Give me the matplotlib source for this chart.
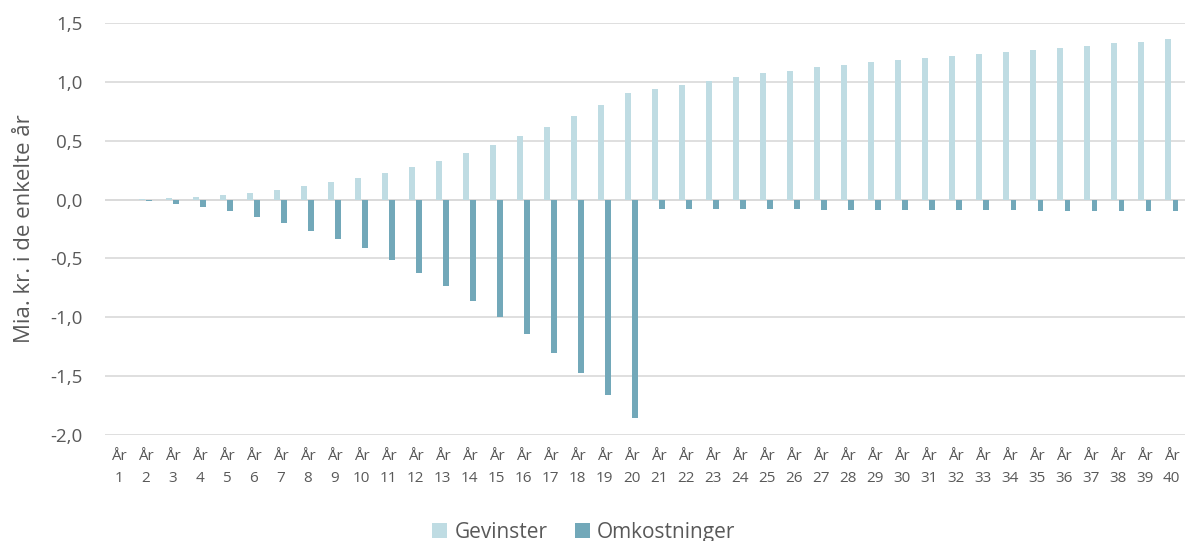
import numpy as np
import matplotlib.pyplot as plt
from matplotlib.ticker import FuncFormatter

plt.rcParams['font.family'] = ['Open Sans', 'DejaVu Sans']

years = [f"År\n{i}" for i in range(1, 41)]

gevinster = [0.0, 0.003, 0.011, 0.025, 0.04, 0.059, 0.085, 0.113, 0.147, 0.187,
             0.228, 0.275, 0.331, 0.397, 0.465, 0.541, 0.620, 0.708, 0.805, 0.907,
             0.937, 0.972, 1.005, 1.04, 1.071, 1.096, 1.122, 1.147, 1.167, 1.187,
             1.204, 1.221, 1.238, 1.252, 1.269, 1.286, 1.306, 1.326, 1.340, 1.360]

omkostninger = [0.0, -0.014, -0.034, -0.062, -0.099, -0.144, -0.198, -0.263, -0.331, -0.41,
                -0.513, -0.620, -0.734, -0.858, -0.994, -1.142, -1.30, -1.473, -1.657, -1.855,
                -0.08, -0.08, -0.08, -0.08, -0.08, -0.08, -0.085, -0.085, -0.09, -0.09,
                -0.09, -0.09, -0.09, -0.09, -0.095, -0.095, -0.1, -0.1, -0.1, -0.1]

c_gev = '#bfdce3'
c_omk = '#72a8b9'
grey = '#595959'

fig = plt.figure(figsize=(11.87, 5.41), dpi=100)
ax = fig.add_axes([0.0885, 0.196, 0.91, 0.7615])

x = np.arange(len(years))
w = 0.22
ax.bar(x - 0.14, gevinster, w, color=c_gev, label='Gevinster', zorder=3)
ax.bar(x + 0.14, omkostninger, w, color=c_omk, label='Omkostninger', zorder=3)

ax.set_xlim(-0.5, len(years) - 0.5)
ax.set_ylim(-2.0, 1.5)
ax.set_yticks(np.arange(-2.0, 1.51, 0.5))
ax.yaxis.set_major_formatter(FuncFormatter(lambda v, p: f"{v:.1f}".replace('.', ',')))
ax.grid(axis='y', color='#d9d9d9', linewidth=1.2, zorder=0)
ax.axhline(0, color='#d9d9d9', linewidth=1.2, zorder=2)

ax.set_xticks(x)
ax.set_xticklabels(years, fontsize=11, color=grey, linespacing=1.65)
ax.tick_params(axis='x', length=0, pad=10)
ax.tick_params(axis='y', length=0, labelsize=13.5, labelcolor=grey, pad=16)
for s in ax.spines.values():
    s.set_visible(False)

ax.set_ylabel('Mia. kr. i de enkelte år', fontsize=16, color=grey, labelpad=11)

fig.legend(loc='center', bbox_to_anchor=(0.492, 0.016), ncol=2, frameon=False,
           fontsize=15, handlelength=0.72, handleheight=0.72, handletextpad=0.35,
           columnspacing=1.3, labelcolor=grey)

fig.savefig('out.png', dpi=100)
